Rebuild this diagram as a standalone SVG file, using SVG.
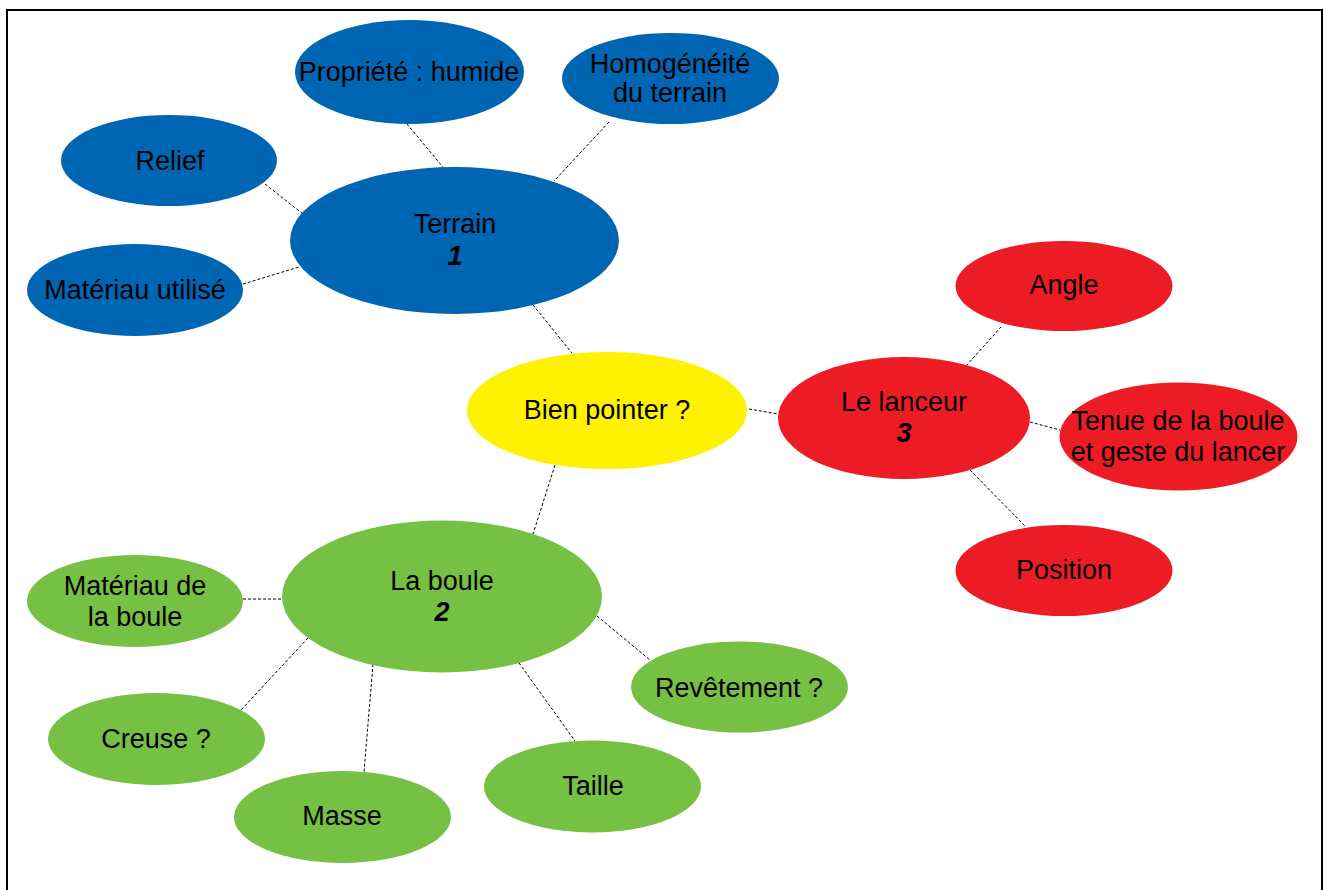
<svg xmlns="http://www.w3.org/2000/svg" width="1327" height="890" viewBox="0 0 1327 890">
<style>
.b{fill:#0065B3}
.r{fill:#ED1C24}
.g{fill:#76C043}
.y{fill:#FFF200}
text{font-family:"Liberation Sans",Arial,sans-serif;font-size:27px;fill:#000;text-anchor:middle}
.n{font-weight:bold;font-style:italic}
#connectors line{stroke:#000;stroke-width:1;stroke-dasharray:3,2}
</style>
<rect x="7" y="10" width="1315" height="895" fill="#fff" stroke="#000" stroke-width="2"/>
<g id="connectors">
<line x1="407" y1="124" x2="447" y2="172"/>
<line x1="609" y1="122" x2="554" y2="181"/>
<line x1="265" y1="184" x2="303" y2="214"/>
<line x1="243" y1="284" x2="299" y2="267"/>
<line x1="533" y1="305" x2="572" y2="353"/>
<line x1="749" y1="409" x2="778" y2="414"/>
<line x1="555" y1="465" x2="533" y2="534"/>
<line x1="966" y1="366" x2="1001" y2="327"/>
<line x1="1030" y1="422" x2="1060" y2="430"/>
<line x1="970" y1="470" x2="1026" y2="527"/>
<line x1="243" y1="599" x2="282" y2="599"/>
<line x1="308" y1="638" x2="241" y2="710"/>
<line x1="373" y1="664" x2="364" y2="772"/>
<line x1="597" y1="616" x2="650" y2="660"/>
<line x1="519" y1="663" x2="575" y2="741"/>
</g>
<g id="terrain"><ellipse class="b" cx="454.5" cy="240.5" rx="164.5" ry="73.5"/><text x="455" y="233">Terrain</text><text class="n" x="455" y="265">1</text></g>
<g id="propriete"><ellipse class="b" cx="409.5" cy="72" rx="114.5" ry="52"/><text x="409" y="81">Propriété : humide</text></g>
<g id="homogeneite"><ellipse class="b" cx="670.5" cy="78.5" rx="108.5" ry="45.5"/><text x="670" y="73">Homogénéité</text><text x="670" y="102">du terrain</text></g>
<g id="relief"><ellipse class="b" cx="169" cy="160.5" rx="108" ry="45.5"/><text x="170" y="170">Relief</text></g>
<g id="materiau-utilise"><ellipse class="b" cx="135" cy="290" rx="108" ry="46"/><text x="135" y="299">Matériau utilisé</text></g>
<g id="bien-pointer"><ellipse class="y" cx="607" cy="410.5" rx="140" ry="58.5"/><text x="607" y="419">Bien pointer ?</text></g>
<g id="lanceur"><ellipse class="r" cx="904" cy="418" rx="126" ry="61"/><text x="904" y="411">Le lanceur</text><text class="n" x="904" y="442">3</text></g>
<g id="angle"><ellipse class="r" cx="1064" cy="286" rx="108.5" ry="45"/><text x="1064" y="294">Angle</text></g>
<g id="tenue"><ellipse class="r" cx="1178.5" cy="436.5" rx="119" ry="54"/><text x="1178" y="430">Tenue de la boule</text><text x="1178" y="461">et geste du lancer</text></g>
<g id="position"><ellipse class="r" cx="1064" cy="570.5" rx="108.5" ry="45.5"/><text x="1064" y="579">Position</text></g>
<g id="boule"><ellipse class="g" cx="442" cy="596.5" rx="160" ry="76"/><text x="442" y="590">La boule</text><text class="n" x="442" y="621">2</text></g>
<g id="materiau-boule"><ellipse class="g" cx="135" cy="601" rx="108" ry="46"/><text x="135" y="595">Matériau de</text><text x="135" y="626">la boule</text></g>
<g id="creuse"><ellipse class="g" cx="156.5" cy="739" rx="108.5" ry="46"/><text x="156" y="748">Creuse ?</text></g>
<g id="masse"><ellipse class="g" cx="342.5" cy="817" rx="108.5" ry="46"/><text x="342" y="825">Masse</text></g>
<g id="revetement"><ellipse class="g" cx="739.5" cy="687" rx="108.5" ry="45.5"/><text x="739" y="697">Revêtement ?</text></g>
<g id="taille"><ellipse class="g" cx="592.5" cy="786.5" rx="108.5" ry="46"/><text x="593" y="795">Taille</text></g>
</svg>
